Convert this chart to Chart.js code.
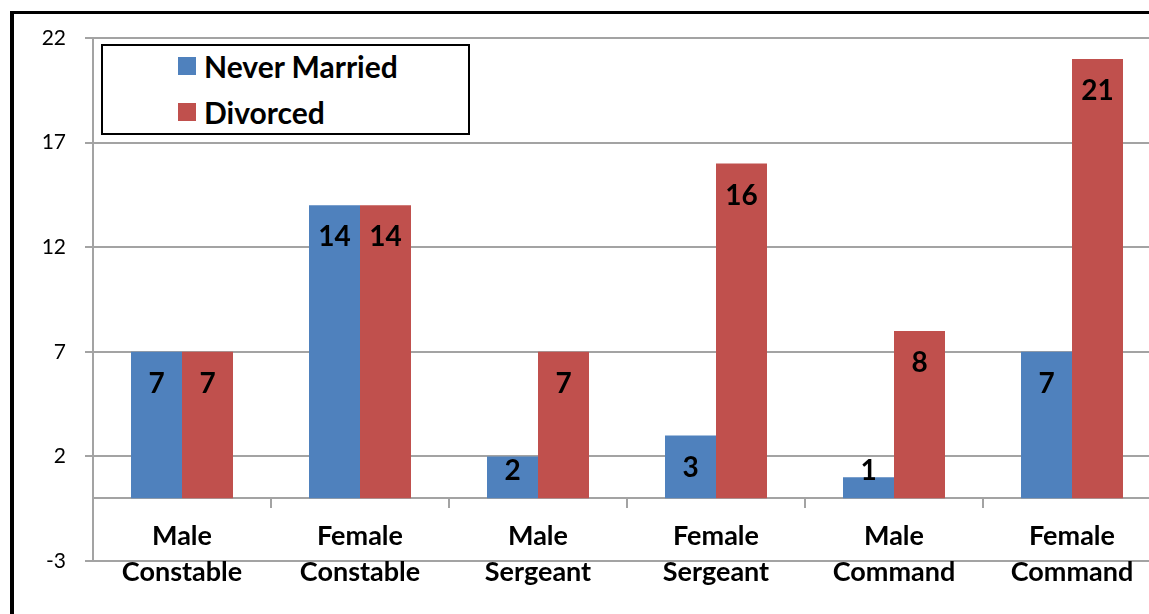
<!DOCTYPE html>
<html>
<head>
<meta charset="utf-8">
<script src="https://cdn.jsdelivr.net/npm/chart.js@4"></script>
<style>
    html, body { margin: 0; padding: 0; background: #fff; overflow: hidden; }
    #moldura {
        position: absolute; left: 10px; top: 11px; width: 1300px; height: 800px;
        border-left: 4px solid #000; border-top: 3px solid #000;
    }
    #wrap { position: absolute; left: 0; top: 0; width: 1175px; height: 614px; }
    #legenda {
        position: absolute; left: 101px; top: 44px; width: 369px; height: 91px;
        box-sizing: border-box; border: 2px solid #000; background: #fff;
        font-family: Lato, sans-serif; font-weight: bold; font-size: 30px;
    }
    .item { position: absolute; left: 75px; height: 30px; display: flex; align-items: center; }
    .item span.cor { width: 18px; height: 18px; margin-right: 8px; display: inline-block; }
</style>
</head>
<body>
<div id="moldura"></div>
<div id="wrap"><canvas id="grafico"></canvas></div>
<div id="legenda"></div>
<script>
const categorias = [
    ['Male', 'Constable'], ['Female', 'Constable'], ['Male', 'Sergeant'],
    ['Female', 'Sergeant'], ['Male', 'Command'], ['Female', 'Command']
];
const neverMarried = [7, 14, 2, 3, 1, 7];
const divorced = [7, 14, 7, 16, 8, 21];
const ticksY = [-3, 2, 7, 12, 17, 22];

const CORES = {
    'Never Married': '#4F81BD',
    'Divorced': '#C0504D'
};
const GRELHA = '#a3a3a3';

const etiquetas = {
    id: 'etiquetas',
    afterDatasetsDraw(chart) {
        const ctx = chart.ctx;
        ctx.save();
        ctx.font = 'bold 28px Lato';
        ctx.fillStyle = '#000';
        ctx.textAlign = 'center';
        ctx.textBaseline = 'middle';
        chart.data.datasets.forEach((ds, i) => {
            chart.getDatasetMeta(i).data.forEach((bar, j) => {
                const y = Math.min(bar.y + 32, bar.base - 27);
                ctx.fillText(String(ds.data[j]), bar.x, y);
            });
        });
        ctx.restore();
    }
};

function renderLegenda() {
    const legenda = document.getElementById('legenda');
    legenda.innerHTML = Object.keys(CORES).map((nome, i) => `
        <div class="item" style="top:${5 + i * 46}px">
            <span class="cor" style="background:${CORES[nome]}"></span>${nome}
        </div>`).join('');
}

function renderGrafico() {
    const ctx = document.getElementById('grafico');
    new Chart(ctx, {
        type: 'bar',
        data: {
            labels: categorias,
            datasets: [
                { label: 'Never Married', data: neverMarried, backgroundColor: CORES['Never Married'] },
                { label: 'Divorced', data: divorced, backgroundColor: CORES['Divorced'] }
            ]
        },
        options: {
            responsive: true,
            maintainAspectRatio: false,
            animation: false,
            layout: { padding: { top: 38, bottom: 53, left: 0, right: 14 } },
            plugins: { legend: { display: false }, tooltip: { enabled: false } },
            datasets: { bar: { categoryPercentage: 0.573, barPercentage: 1 } },
            scales: {
                x: {
                    position: { y: 0 },
                    afterFit: s => { s.height = 0; },
                    grid: {
                        offset: true, drawOnChartArea: false, drawTicks: true,
                        tickLength: 9, color: GRELHA, lineWidth: 2
                    },
                    border: { display: true, color: GRELHA, width: 2 },
                    ticks: {
                        color: '#000', padding: 11,
                        font: { family: 'Lato', weight: 'bold', size: 27, lineHeight: 1.34 },
                        maxRotation: 0, autoSkip: false
                    }
                },
                y: {
                    min: ticksY[0],
                    max: ticksY[ticksY.length - 1],
                    afterFit: s => { s.width = 93; },
                    afterBuildTicks: s => { s.ticks = ticksY.map(v => ({ value: v })); },
                    grid: { color: GRELHA, lineWidth: 2, tickLength: 8 },
                    border: { display: true, color: GRELHA, width: 2 },
                    ticks: { color: '#000', padding: 19, font: { family: 'Lato', size: 21 } }
                }
            }
        },
        plugins: [etiquetas]
    });
}

renderLegenda();
renderGrafico();
</script>
</body>
</html>
